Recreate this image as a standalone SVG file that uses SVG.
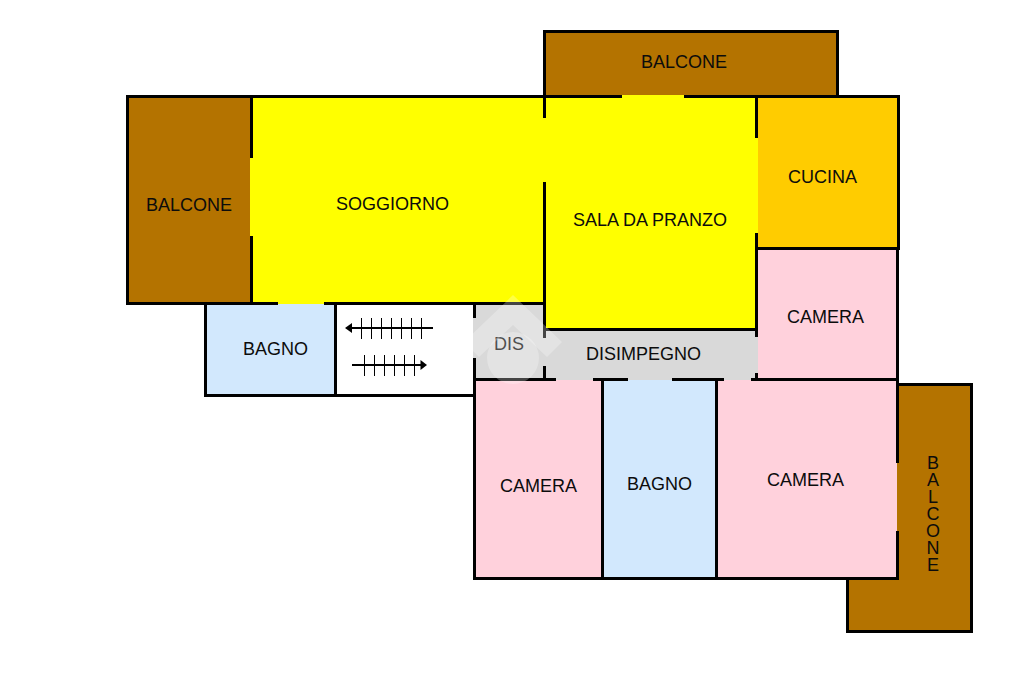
<svg xmlns="http://www.w3.org/2000/svg" width="1024" height="682" viewBox="0 0 1024 682">
<style>
.brown{fill:#b47300}.yellow{fill:#ffff00}.orange{fill:#ffcc00}.pink{fill:#ffd1dc}.blue{fill:#d2e8fd}.grey{fill:#d9d9d9}
text{font-family:"Liberation Sans",Arial,sans-serif;font-size:18px;fill:#0c0c0c;text-anchor:middle}
.wall{fill:none;stroke:#000;stroke-width:3}
.thin{fill:none;stroke:#000;stroke-width:1}
.flight{fill:none;stroke:#000;stroke-width:2}
.mark{fill:#fff;opacity:.27}
</style>
<rect width="1024" height="682" fill="#fff"/>
<g id="balcone-ovest"><rect class="brown" x="127" y="97" width="123" height="207"/><text x="189" y="211">BALCONE</text></g>
<g id="balcone-nord"><rect class="brown" x="545" y="32" width="292" height="64"/><text x="684" y="68">BALCONE</text></g>
<g id="balcone-est"><path class="brown" d="M896 384H972V632H848V578H896Z"/><text x="933 933 933 933 933 933 933" y="469 486 503 520 537 554 571">BALCONE</text></g>
<g id="soggiorno"><path class="yellow" d="M250 97H545V305H324V305H278V303H250Z"/><text x="392.500" y="210">SOGGIORNO</text></g>
<g id="sala-da-pranzo"><path class="yellow" d="M545 97H622V95H684V97H758V248H756V329H545Z"/><text x="650" y="226">SALA DA PRANZO</text></g>
<g id="cucina"><rect class="orange" x="758" y="97" width="140" height="152"/><text x="822.500" y="183">CUCINA</text></g>
<g id="camera-1"><rect class="pink" x="757" y="249" width="140" height="130"/><text x="825.500" y="323">CAMERA</text></g>
<g id="bagno-1"><rect class="blue" x="206" y="304" width="129" height="91"/><text x="275.500" y="355">BAGNO</text></g>
<g id="scale"><path class="flight" d="M351 328H433M352 365H422"/><path d="M345 328L352 323V333Z"/><path d="M427 365L420.500 360V370Z"/><path class="thin" d="M361.500 318V339M371.500 318V339M381.500 318V339M391.500 318V339M401.500 318V339M411.500 318V339M421.500 318V339M364.500 355V376M374.500 355V376M384.500 355V376M394.500 355V376M404.500 355V376M414.500 355V376"/></g>
<g id="dis"><rect class="grey" x="473" y="304" width="72" height="77"/><text x="509" y="350">DIS</text></g>
<g id="disimpegno"><rect class="grey" x="545" y="330" width="213" height="51"/><text x="643.500" y="360">DISIMPEGNO</text></g>
<g id="camera-2"><rect class="pink" x="475" y="380" width="128" height="198"/><text x="538.500" y="492">CAMERA</text></g>
<g id="bagno-2"><rect class="blue" x="603" y="380" width="114" height="198"/><text x="659.500" y="490">BAGNO</text></g>
<g id="camera-3"><rect class="pink" x="717" y="380" width="180" height="198"/><text x="805.500" y="486">CAMERA</text></g>
<g id="muri">
<path class="wall" d="M278 303.500H127.500V96.500H622M684 96.500H898.500V248.500H757"/>
<path class="wall" d="M251.500 96.500V158M251.500 236V303.500"/>
<path class="wall" d="M544.500 96.500V31.500H837.500V96.500"/>
<path class="wall" d="M544.500 96.500V118M544.500 182V338M544.500 366V380"/>
<path class="wall" d="M756.500 96.500V138M756.500 233V249M756.500 249V337M756.500 373V380"/>
<path class="wall" d="M324 303.500H545M545 329.500H757"/>
<path class="wall" d="M205.500 303.500V395.500H474.500M335.500 303.500V395.500"/>
<path class="wall" d="M474.500 303.500V318M474.500 358V578.500H897.500V531M897.500 463V248.500"/>
<path class="wall" d="M474.500 379.500H556M593 379.500H628M672 379.500H724M751 379.500H897.500"/>
<path class="wall" d="M602.500 379.500V578.500M716.500 379.500V578.500"/>
<path class="wall" d="M897.500 384.500H971.500V631.500H847.500V578.500"/>
</g>
<path class="mark" d="M513 295L562 342L547 357L513 325L479 357L464 342Z"/>
<circle class="mark" cx="513" cy="358" r="26"/>
</svg>
